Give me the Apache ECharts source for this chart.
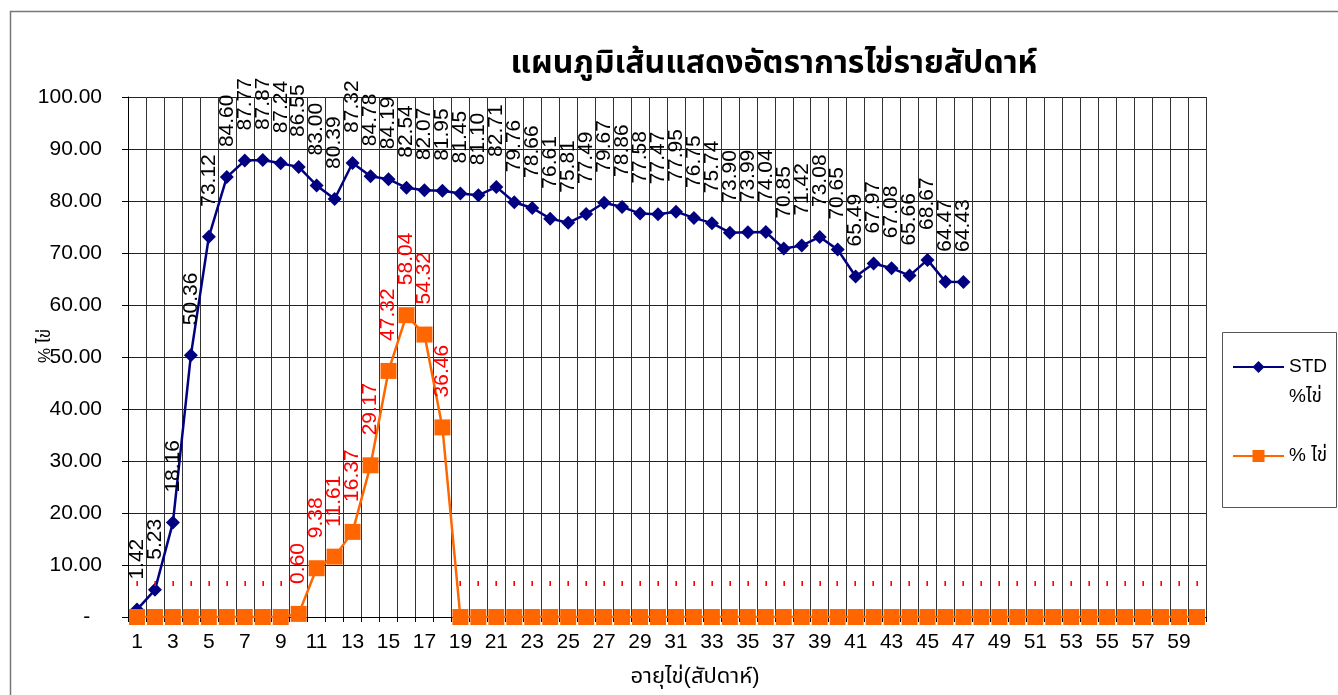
<!DOCTYPE html>
<html>
<head>
<meta charset="utf-8">
<script src="https://cdn.jsdelivr.net/npm/echarts@6/dist/echarts.min.js"></script>
<style>
html,body{margin:0;padding:0;background:#fff;}
#chart{width:1338px;height:695px;}
</style>
</head>
<body>
<div id="chart"></div>
<script>
// ---- data ----
const weeks = [];
for (let i = 1; i <= 60; i++) weeks.push(String(i));

const stdValues = [1.42, 5.23, 18.16, 50.36, 73.12, 84.60, 87.77, 87.87, 87.24, 86.55,
  83.00, 80.39, 87.32, 84.78, 84.19, 82.54, 82.07, 81.95, 81.45, 81.10,
  82.71, 79.76, 78.66, 76.61, 75.81, 77.49, 79.67, 78.86, 77.58, 77.47,
  77.95, 76.75, 75.74, 73.90, 73.99, 74.04, 70.85, 71.42, 73.08, 70.65,
  65.49, 67.97, 67.08, 65.66, 68.67, 64.47, 64.43];

const eggValues = [0, 0, 0, 0, 0, 0, 0, 0, 0, 0.60,
  9.38, 11.61, 16.37, 29.17, 47.32, 58.04, 54.32, 36.46, 0, 0,
  0, 0, 0, 0, 0, 0, 0, 0, 0, 0,
  0, 0, 0, 0, 0, 0, 0, 0, 0, 0,
  0, 0, 0, 0, 0, 0, 0, 0, 0, 0,
  0, 0, 0, 0, 0, 0, 0, 0, 0, 0];

const titleText = 'แผนภูมิเส้นแสดงอัตราการไข่รายสัปดาห์';
const xName = 'อายุไข่(สัปดาห์)';
const yName = '% ไข่';
const stdName = 'STD %ไข่';
const eggName = '% ไข่';

// ---- chart ----
const FONT = "'Liberation Sans', Arial, 'Noto Sans Thai', 'Noto Sans', sans-serif";
const fmt = v => (v === 0 ? '-' : v.toFixed(2));

const chart = echarts.init(document.getElementById('chart'), null, {renderer: 'canvas'});
chart.setOption({
  animation: false,
  backgroundColor: '#fff',
  textStyle: {fontFamily: FONT},
  title: {
    text: titleText,
    left: 769, top: 43, textAlign: 'center',
    textStyle: {fontSize: 32, fontWeight: 'bold', color: '#000', fontFamily: FONT}
  },
  graphic: [
    {type: 'rect', left: 8, top: 9, shape: {width: 1345, height: 700},
      style: {fill: 'none', stroke: '#777', lineWidth: 1.5}, silent: true, z: -1},
    {type: 'rect', left: 1222, top: 332, shape: {width: 114, height: 175},
      style: {fill: '#fff', stroke: '#555', lineWidth: 1}, silent: true, z: 0}
  ],
  legend: [
    {data: [stdName], orient: 'vertical', left: 1232, top: 322, padding: 0,
      itemWidth: 51, itemHeight: 15,
      formatter: () => '\nSTD\n%ไข่',
      textStyle: {fontSize: 19, color: '#000', lineHeight: 30, fontFamily: FONT}},
    {data: [eggName], orient: 'vertical', left: 1232, top: 441, padding: 0,
      itemWidth: 51, itemHeight: 15,
      textStyle: {fontSize: 19, color: '#000', lineHeight: 30, fontFamily: FONT}}
  ],
  grid: {left: 128, top: 97, width: 1078, height: 520, containLabel: false},
  xAxis: {
    type: 'category', data: weeks, boundaryGap: true,
    name: xName, nameLocation: 'middle', nameGap: 49,
    nameTextStyle: {fontSize: 22, color: '#000', padding: [0, 0, 0, 56], fontFamily: FONT},
    axisLine: {lineStyle: {color: '#000', width: 1}},
    axisTick: {show: true, interval: 0, length: 5, lineStyle: {color: '#000'}},
    axisLabel: {interval: 1, fontSize: 21, color: '#000', margin: 15, fontFamily: FONT},
    splitLine: {show: true, interval: 0, lineStyle: {color: '#333', width: 1}}
  },
  yAxis: {
    type: 'value', min: 0, max: 100, interval: 10,
    name: yName, nameLocation: 'middle', nameGap: 74, nameRotate: 90,
    nameMoveOverlap: false,
    nameTextStyle: {fontSize: 17, color: '#000', padding: [0, 0, 0, 22], fontFamily: FONT},
    axisLine: {show: true, lineStyle: {color: '#000', width: 1}},
    axisTick: {show: true, length: 6, lineStyle: {color: '#000'}},
    axisLabel: {fontSize: 21, color: '#000', margin: 26, fontFamily: FONT,
      formatter: v => (v === 0 ? '-  ' : v.toFixed(2))},
    splitLine: {show: true, lineStyle: {color: '#222', width: 1}}
  },
  series: [
    {
      name: stdName, type: 'line', data: stdValues,
      symbol: 'diamond', symbolSize: 14, showAllSymbol: true,
      lineStyle: {color: '#000080', width: 2.5},
      itemStyle: {color: '#000080'},
      label: {show: true, position: 'top', distance: 23, rotate: 90,
        align: 'left', verticalAlign: 'middle',
        fontSize: 21, color: '#000', fontFamily: FONT,
        formatter: p => fmt(p.value)},
      z: 3
    },
    {
      name: eggName, type: 'line', data: eggValues,
      symbol: 'rect', symbolSize: 16, showAllSymbol: true,
      lineStyle: {color: '#FF6600', width: 2.5},
      itemStyle: {color: '#FF6600'},
      label: {show: true, position: 'top', distance: 22, rotate: 90,
        align: 'left', verticalAlign: 'middle',
        fontSize: 21, color: '#FF0000', fontFamily: FONT,
        formatter: p => fmt(p.value)},
      z: 4
    }
  ]
});
</script>
</body>
</html>
